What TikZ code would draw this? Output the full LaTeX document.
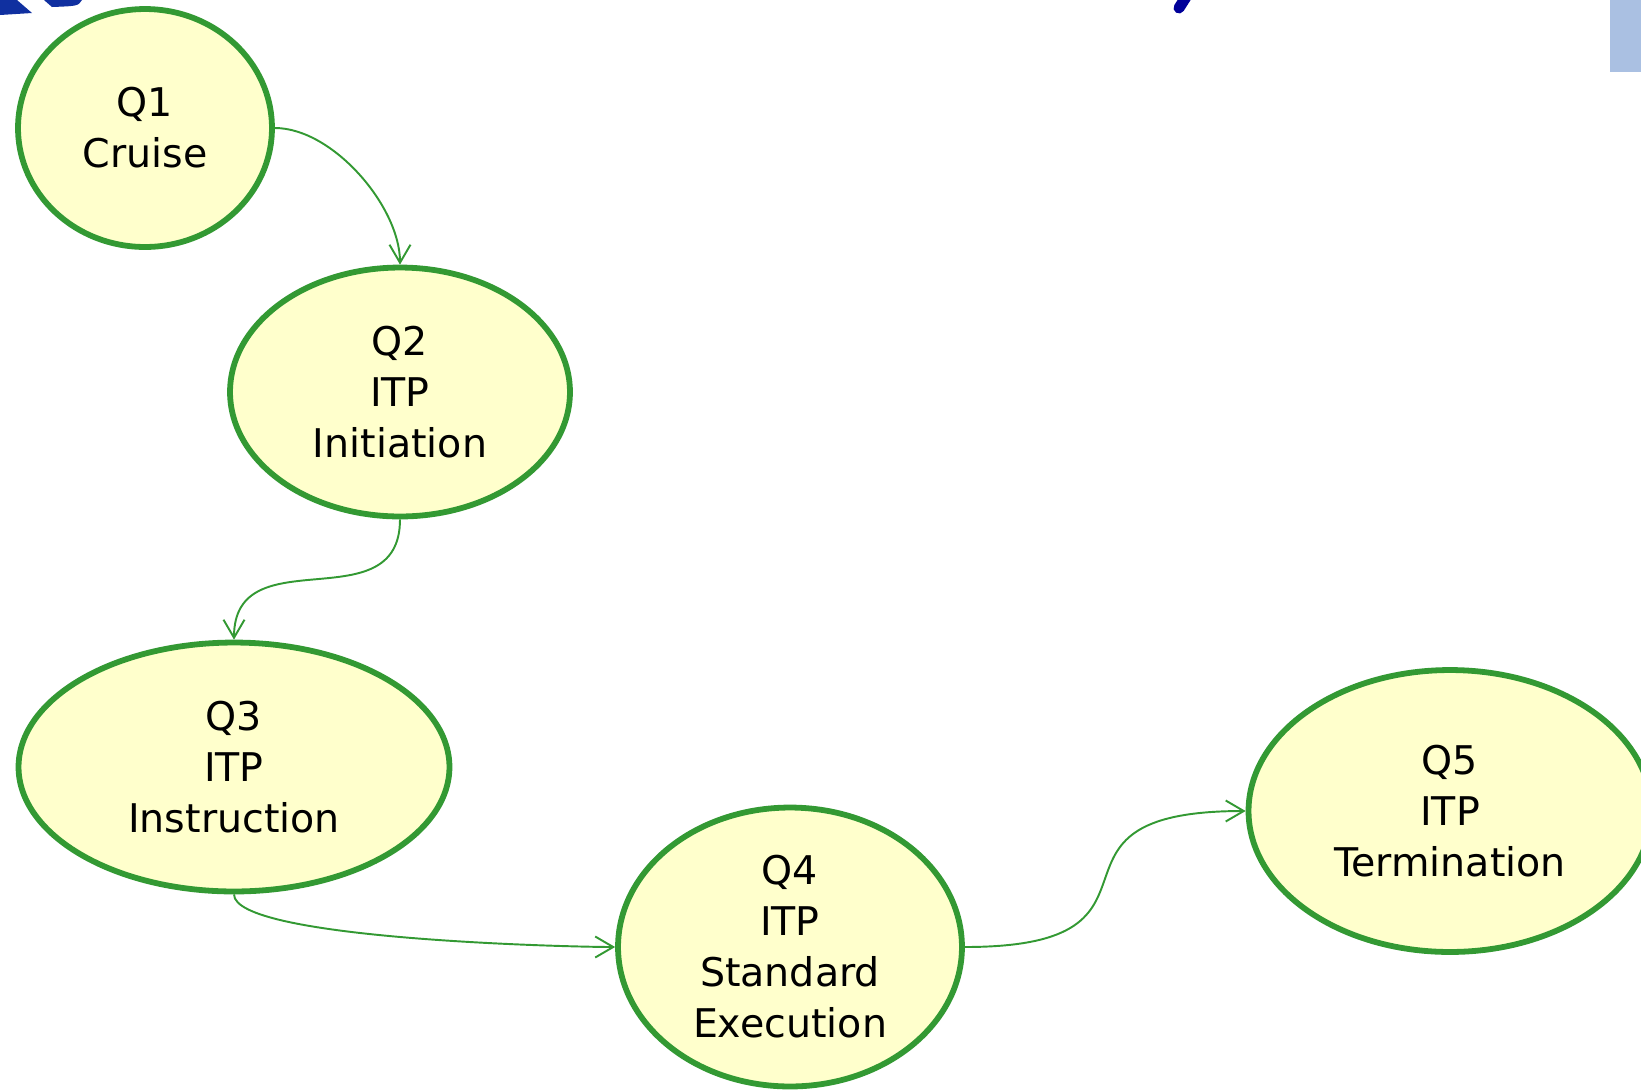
\documentclass[tikz,border=0pt]{standalone}
\usepackage{fontspec}
\setmainfont{DejaVu Sans}
\usetikzlibrary{shapes.geometric, arrows.meta}

\definecolor{stategreen}{RGB}{51,153,51}
\definecolor{statefill}{RGB}{255,255,204}
\definecolor{slideblue}{RGB}{16,48,160}
\definecolor{titleblue}{RGB}{0,0,153}
\definecolor{skyblue}{RGB}{170,192,226}

\begin{document}
\begin{tikzpicture}[x=0.02cm, y=-0.02cm,
    state/.style={ellipse, draw=stategreen, fill=statefill, line width=3.3pt,
        inner sep=0pt, align=center, font=\fontsize{22.5}{29}\selectfont},
    trans/.style={stategreen, line width=1.1pt,
        -{Straight Barb[length=0.36cm, width=0.42cm]}}]

    \useasboundingbox (0, 0) rectangle (1641, 1090);

    % slide remnants
    \fill [slideblue] (0, 0) -- (17, 0) -- (32, 13) -- (0, 15) -- cycle;
    \fill [slideblue] (44, 0) -- (82, 0) .. controls (78, 6) .. (52, 7) -- cycle;
    \draw [titleblue, line width=0.22cm, line cap=round] (1186, -3) -- (1179, 8);
    \fill [skyblue] (1610, 0) rectangle (1641, 72);

    % states
    \node [state, minimum width=5.08cm, minimum height=4.76cm] (q1) at (145, 128) {Q1\\Cruise};
    \node [state, minimum width=6.80cm, minimum height=4.98cm] (q2) at (400, 392) {Q2\\ITP\\Initiation};
    \node [state, minimum width=8.62cm, minimum height=4.98cm] (q3) at (234, 767) {Q3\\ITP\\Instruction};
    \node [state, minimum width=6.88cm, minimum height=5.58cm] (q4) at (790, 947) {Q4\\ITP\\Standard\\Execution};
    \node [state, minimum width=8.06cm, minimum height=5.64cm] (q5) at (1450, 811) {Q5\\ITP\\Termination};

    % transitions
    \draw [trans] (q1.east) to [out=0, in=90, looseness=0.8] (q2.north);
    \draw [trans] (q2.south) to [out=-90, in=90, looseness=1.3] (q3.north);
    \draw [trans] (q3.south) to [out=-90, in=180, looseness=0.3] (q4.west);
    \draw [trans] (q4.east) to [out=0, in=180, looseness=1.9] (q5.west);
\end{tikzpicture}
\end{document}
